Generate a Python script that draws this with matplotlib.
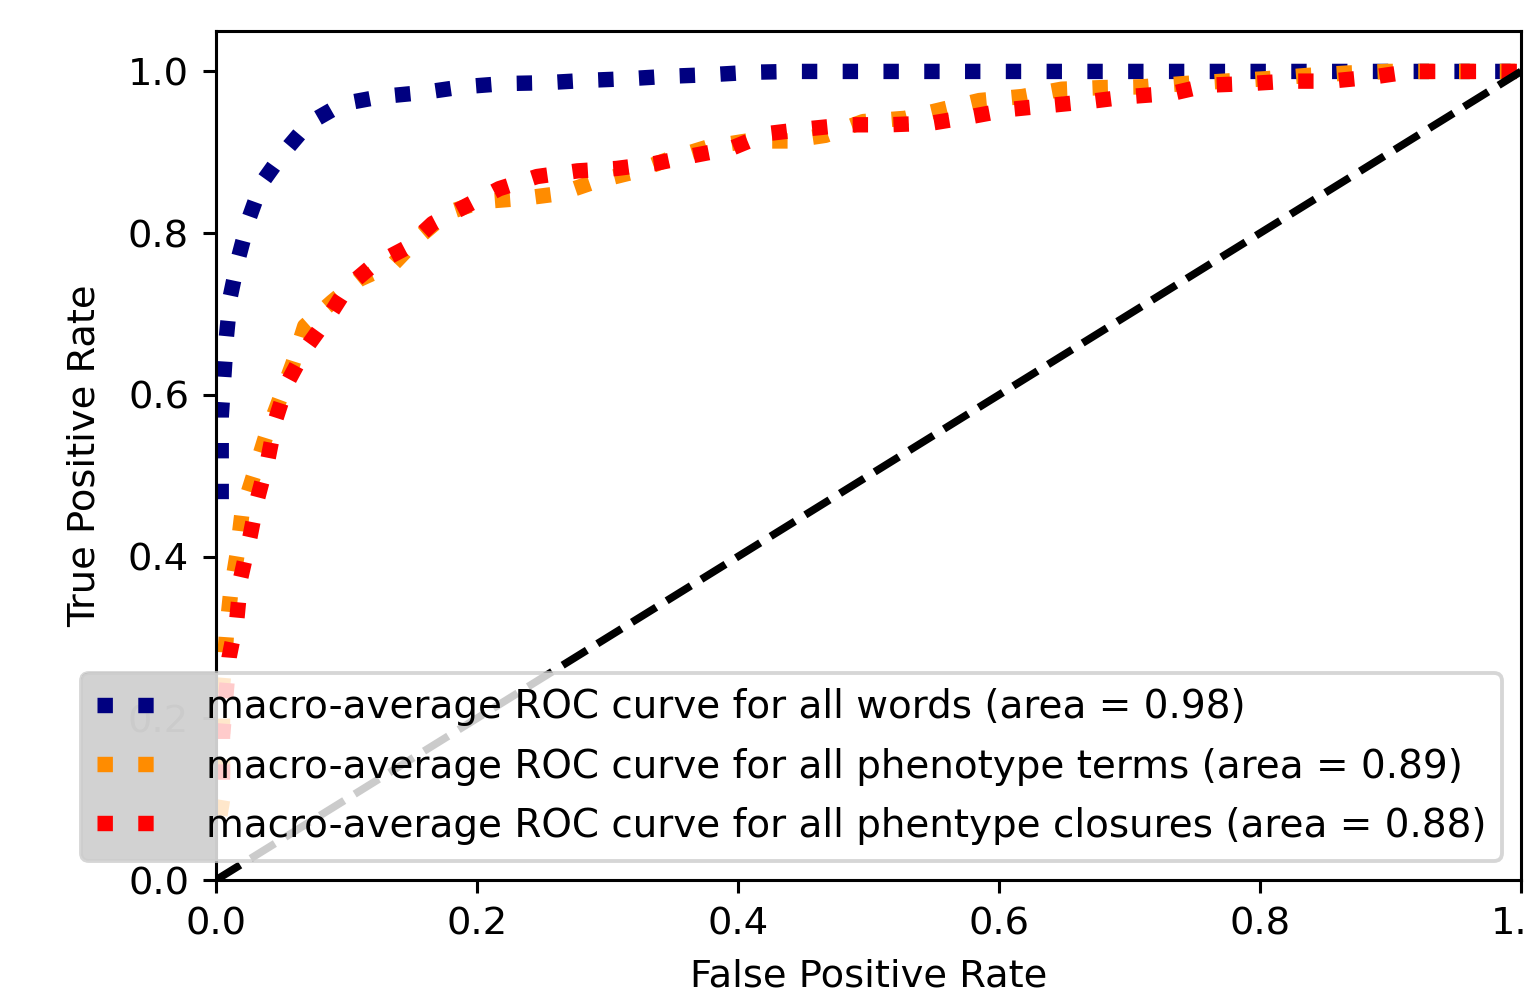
import matplotlib
matplotlib.use("Agg")
import matplotlib.pyplot as plt
from matplotlib.patches import FancyBboxPatch
from matplotlib.transforms import IdentityTransform

# ---------------- data ----------------
fpr_words = [0.004, 0.004, 0.004, 0.006, 0.008, 0.011, 0.017, 0.025, 0.035, 0.051,
             0.071, 0.097, 0.127, 0.159, 0.189, 0.221, 0.252, 0.285, 0.316, 0.347,
             0.379, 0.411, 0.442, 1.0]
tpr_words = [0.471, 0.52, 0.572, 0.622, 0.672, 0.722, 0.768, 0.817, 0.862, 0.898,
             0.936, 0.960, 0.969, 0.974, 0.981, 0.985, 0.986, 0.989, 0.991, 0.994,
             0.996, 0.999, 1.0, 1.0]

fpr_terms = [0.003, 0.005, 0.005, 0.006, 0.008, 0.011, 0.016, 0.020, 0.028, 0.038,
             0.048, 0.059, 0.068, 0.089, 0.110, 0.136, 0.156, 0.177, 0.203, 0.235,
             0.264, 0.291, 0.321, 0.348, 0.376, 0.407, 0.438, 0.467, 0.496, 0.528,
             0.559, 0.585, 0.618, 0.648, 0.679, 0.710, 0.742, 0.773, 0.805, 0.836,
             0.867, 0.898, 1.0]
tpr_terms = [0.08, 0.099, 0.239, 0.258, 0.304, 0.352, 0.401, 0.455, 0.496, 0.548,
             0.591, 0.639, 0.685, 0.715, 0.743, 0.762, 0.796, 0.825, 0.839, 0.843,
             0.849, 0.864, 0.876, 0.892, 0.906, 0.914, 0.914, 0.921, 0.938, 0.942,
             0.954, 0.964, 0.969, 0.978, 0.980, 0.981, 0.985, 0.988, 0.991, 0.995,
             0.998, 1.0, 1.0]

fpr_closures = [0.005, 0.005, 0.010, 0.016, 0.019, 0.026, 0.032, 0.040, 0.046,
                0.055, 0.069, 0.086, 0.101, 0.120, 0.146, 0.166, 0.192, 0.217, 0.246,
                0.277, 0.307, 0.336, 0.366, 0.395, 0.422, 0.453, 0.484, 0.515, 0.548,
                0.578, 0.608, 0.639, 0.670, 0.700, 0.733, 0.760, 0.792, 0.822, 0.854,
                0.886, 0.916, 1.0]
tpr_closures = [0.124, 0.177, 0.275, 0.323, 0.374, 0.424, 0.473, 0.522, 0.571,
                0.616, 0.658, 0.696, 0.734, 0.760, 0.782, 0.812, 0.834, 0.855, 0.870,
                0.877, 0.880, 0.886, 0.896, 0.905, 0.923, 0.929, 0.934, 0.934, 0.936,
                0.944, 0.953, 0.958, 0.963, 0.969, 0.973, 0.983, 0.985, 0.988, 0.988,
                0.993, 1.0, 1.0]

chance_line = [0.0, 1.0]

labels = [
    "macro-average ROC curve for all words (area = 0.98)",
    "macro-average ROC curve for all phenotype terms (area = 0.89)",
    "macro-average ROC curve for all phentype closures (area = 0.88)",
]
colors = ["navy", "darkorange", "red"]

x_label = "False Positive Rate"
y_label = "True Positive Rate"

# ---------------- figure ----------------
DPI = 277
W, H = 1527, 991
fig = plt.figure(figsize=(W / DPI, H / DPI), dpi=DPI)
ax = fig.add_axes([216 / W, (H - 880) / H, 1305 / W, 849 / H])

ax.plot(fpr_words, tpr_words, color=colors[0], linestyle=":", linewidth=4, label=labels[0])
ax.plot(fpr_terms, tpr_terms, color=colors[1], linestyle=":", linewidth=4, label=labels[1])
ax.plot(fpr_closures, tpr_closures, color=colors[2], linestyle=":", linewidth=4, label=labels[2])
ax.plot(chance_line, chance_line, "k--", lw=2)

ax.set_xlim([0.0, 1.0])
ax.set_ylim([0.0, 1.05])
ax.set_xlabel(x_label)
ax.set_ylabel(y_label, labelpad=6.5)
leg = ax.legend(loc="lower right", fontsize=10.1, labelspacing=0.55)

# the legend part that falls outside the axes appears grey in the reference
fig.canvas.draw()
bb = leg.get_frame().get_window_extent(fig.canvas.get_renderer())
fs_px = leg.prop.get_size_in_points() * DPI / 72.0
shade = FancyBboxPatch((bb.x0, bb.y0), bb.width, bb.height,
                       boxstyle="round,pad=0,rounding_size=%f" % (0.2 * fs_px),
                       transform=IdentityTransform(), facecolor="#242424",
                       edgecolor="none", zorder=-1)
fig.patches.append(shade)
shade.set_figure(fig)

fig.savefig("out.png", dpi=DPI)
